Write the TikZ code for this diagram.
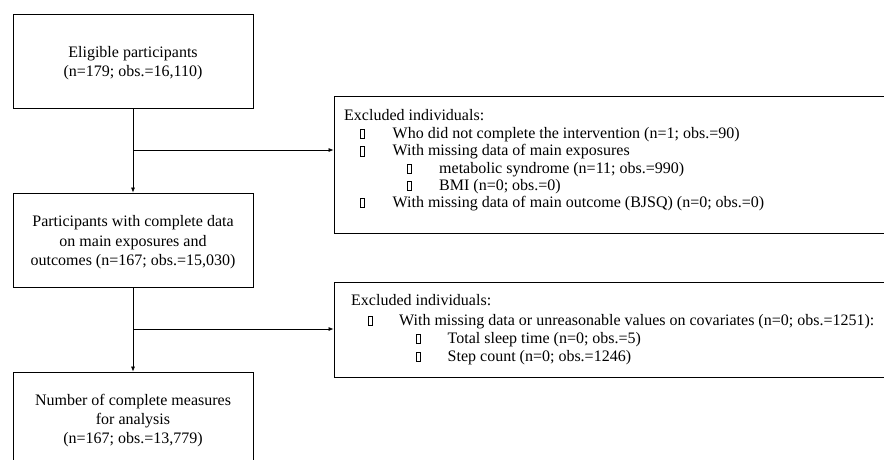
\documentclass[tikz,border=0pt]{standalone}
\usepackage{fontspec}
\setmainfont{Liberation Serif}
\usetikzlibrary{arrows.meta}
\newcommand{\tofubox}{{\setlength{\fboxsep}{0pt}\setlength{\fboxrule}{0.55pt}\fbox{\rule{0pt}{8.5pt}\hspace{3.4pt}}}}
\begin{document}
\begin{tikzpicture}[x=1pt,y=-1pt,
  mainbox/.style={draw, line width=0.8pt, rectangle, inner sep=0pt, minimum width=240pt},
  exbox/.style={draw, line width=0.8pt, rectangle, inner sep=0pt, minimum width=566pt},
  ctxt/.style={anchor=base, inner sep=0pt, font=\fontsize{16}{19}\selectfont},
  ltxt/.style={anchor=base west, inner sep=0pt, font=\fontsize{16}{19}\selectfont},
  arr/.style={-{Latex[length=5pt,width=4pt]}, line width=0.7pt}]
\clip (0,0) rectangle (884,459);
\fill[white] (0,0) rectangle (884,459);
% main boxes
\node[mainbox, minimum height=94pt] (elig) at (133,61) {};
\node[mainbox, minimum height=94pt] (part) at (133,240) {};
\node[mainbox, minimum height=108pt] (final) at (133,426) {};
% main texts
\node[ctxt] (e1) at (133,57) {Eligible participants};
\node[ctxt] (e2) at (133,76.5) {(n=179; obs.=16,110)};
\node[ctxt] (p1) at (133,226.5) {Participants with complete data};
\node[ctxt] (p2) at (133,246) {on main exposures and};
\node[ctxt] (p3) at (133,265.5) {outcomes (n=167; obs.=15,030)};
\node[ctxt] (f1) at (133,405) {Number of complete measures};
\node[ctxt] (f2) at (133,424) {for analysis};
\node[ctxt] (f3) at (133,443) {(n=167; obs.=13,779)};
% excluded boxes
\node[exbox, minimum height=137pt] (ex1) at (617,164.5) {};
\node[exbox, minimum height=95pt] (ex2) at (617,329.5) {};
% excluded 1 texts
\node[ltxt] (x1h) at (344,120.5) {Excluded individuals:};
\node[ltxt] (x1b1) at (360,138) {\tofubox};
\node[ltxt] (x1t1) at (392.5,138) {Who did not complete the intervention (n=1; obs.=90)};
\node[ltxt] (x1b2) at (360,155.5) {\tofubox};
\node[ltxt] (x1t2) at (392.5,155.5) {With missing data of main exposures};
\node[ltxt] (x1b3) at (407,173) {\tofubox};
\node[ltxt] (x1t3) at (439,173) {metabolic syndrome (n=11; obs.=990)};
\node[ltxt] (x1b4) at (407,190) {\tofubox};
\node[ltxt] (x1t4) at (439,190) {BMI (n=0; obs.=0)};
\node[ltxt] (x1b5) at (360,207) {\tofubox};
\node[ltxt] (x1t5) at (392.5,207) {With missing data of main outcome (BJSQ) (n=0; obs.=0)};
% excluded 2 texts
\node[ltxt] (x2h) at (351,305) {Excluded individuals:};
\node[ltxt] (x2b1) at (368,325) {\tofubox};
\node[ltxt] (x2t1) at (399,325) {With missing data or unreasonable values on covariates (n=0; obs.=1251):};
\node[ltxt] (x2b2) at (416,343) {\tofubox};
\node[ltxt] (x2t2) at (447.5,343) {Total sleep time (n=0; obs.=5)};
\node[ltxt] (x2b3) at (416,361) {\tofubox};
\node[ltxt] (x2t3) at (447.5,361) {Step count (n=0; obs.=1246)};
% connectors
\coordinate (br1) at (133,150);
\coordinate (br2) at (133,329);
\draw[arr] (elig.south) -- (part.north);
\draw[arr] (br1) -- (ex1.west |- br1);
\draw[arr] (part.south) -- (final.north);
\draw[arr] (br2) -- (ex2.west |- br2);
\end{tikzpicture}
\end{document}
